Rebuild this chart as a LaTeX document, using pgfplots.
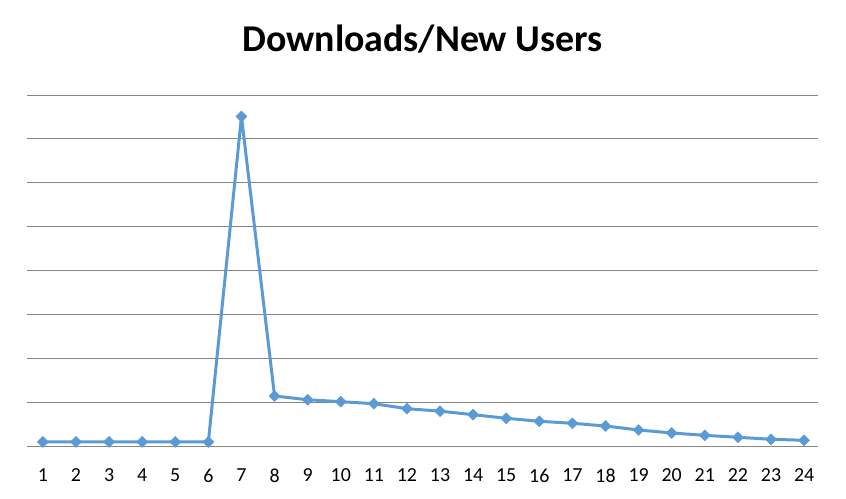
\documentclass[border=0pt]{standalone}
\usepackage{fontspec}
\setmainfont{Carlito}
\usepackage{pgfplots}
\pgfplotsset{compat=1.18}
\definecolor{lineblue}{HTML}{5B9BD5}
\definecolor{gridgray}{HTML}{868686}
\begin{document}
\begin{tikzpicture}
\path[use as bounding box] (0,0) rectangle (846bp,499bp);
\begin{axis}[
  at={(27bp,52.7bp)}, anchor=south west,
  scale only axis, width=791bp, height=351.3bp,
  xmin=0.52, xmax=24.42, ymin=0, ymax=8,
  axis line style={draw=none},
  ytick={0,1,...,8}, yticklabels={},
  ymajorgrids, grid style={gridgray, line width=1bp},
  xtick={1,...,24}, major tick length=0pt,
  xticklabel style={font=\fontsize{20}{24}\selectfont, yshift=-19bp},
  /pgf/number format/assume math mode=true,
  title={\fontsize{38}{44}\selectfont\bfseries Downloads/New Users},
  title style={at={(0.5,1)}, anchor=base, yshift=38bp},
  clip=false,
]
\addplot[lineblue, line width=3bp, line join=round, mark=diamond*, mark size=5.5bp,
  mark options={xscale=1.33, fill=lineblue, draw=lineblue, line width=0.5bp}]
coordinates {
(1,0.10)(2,0.10)(3,0.10)(4,0.10)(5,0.10)(6,0.10)(7,7.51)(8,1.146)
(9,1.06)(10,1.016)(11,0.97)(12,0.857)(13,0.80)(14,0.72)(15,0.638)
(16,0.57)(17,0.524)(18,0.462)(19,0.371)(20,0.303)(21,0.25)(22,0.205)
(23,0.16)(24,0.137)
};
\end{axis}
\end{tikzpicture}
\end{document}
